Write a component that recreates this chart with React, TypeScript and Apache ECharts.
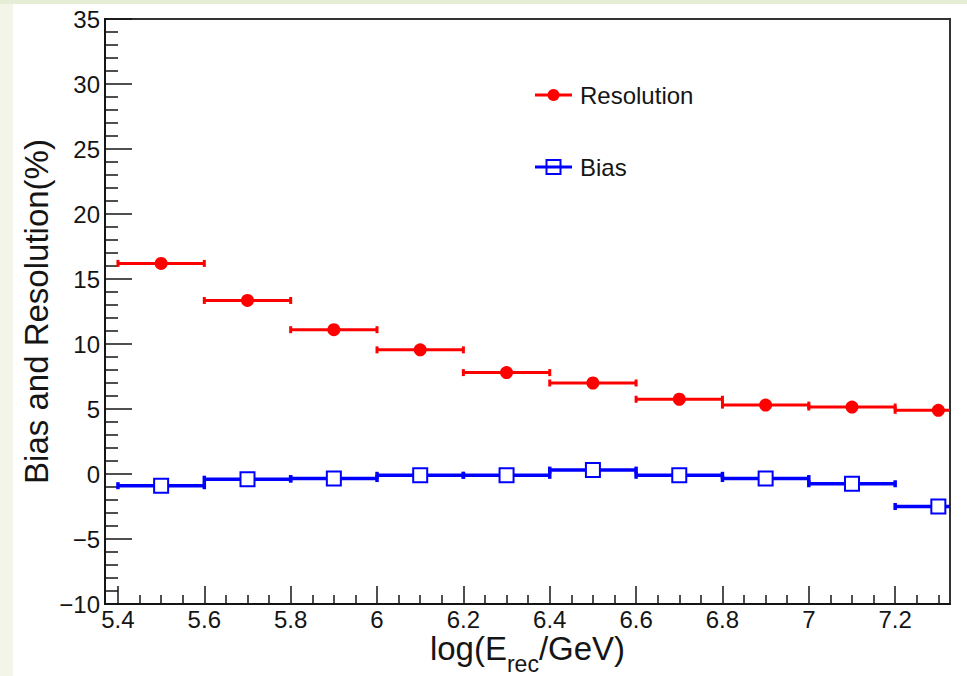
import React, { useEffect, useRef } from "react";
import * as echarts from "echarts";

// ---- data ----
const binCenters = [5.5, 5.7, 5.9, 6.1, 6.3, 6.5, 6.7, 6.9, 7.1, 7.3];
const binWidth = 0.2;
const resolution = [16.2, 13.35, 11.1, 9.55, 7.8, 7.0, 5.75, 5.3, 5.15, 4.9];
const bias = [-0.9, -0.4, -0.35, -0.1, -0.1, 0.3, -0.1, -0.35, -0.75, -2.5];
const xMajorTicks = [5.4, 5.6, 5.8, 6, 6.2, 6.4, 6.6, 6.8, 7, 7.2];
const xMinorTicks = [
  5.45, 5.5, 5.55, 5.65, 5.7, 5.75, 5.85, 5.9, 5.95, 6.05, 6.1, 6.15, 6.25,
  6.3, 6.35, 6.45, 6.5, 6.55, 6.65, 6.7, 6.75, 6.85, 6.9, 6.95, 7.05, 7.1,
  7.15, 7.25, 7.3,
];
const xMin = 5.37;
const xMax = 7.327;
const yMin = -10;
const yMax = 35;
const yStep = 5;

const FONT = "'Liberation Sans', Arial, Helvetica, sans-serif";
const RED = "#ff0000";
const BLUE = "#0000ff";
const TXT = "#151515";

function errorBarSeries(name: string, values: number[], color: string, lw: number) {
  return {
    name: name + "-err",
    type: "custom",
    xAxisIndex: 0,
    yAxisIndex: 0,
    clip: true,
    silent: true,
    z: 2,
    data: binCenters.map((x, i) => [x, values[i]]),
    renderItem: (params: any, api: any) => {
      const x = api.value(0);
      const y = api.value(1);
      const p1 = api.coord([x - binWidth / 2, y]);
      const p2 = api.coord([x + binWidth / 2, y]);
      const cap = 3.5;
      const st = { stroke: color, lineWidth: lw };
      return {
        type: "group",
        children: [
          { type: "line", shape: { x1: p1[0], y1: p1[1], x2: p2[0], y2: p2[1] }, style: st },
          { type: "line", shape: { x1: p1[0], y1: p1[1] - cap, x2: p1[0], y2: p1[1] + cap }, style: st },
          { type: "line", shape: { x1: p2[0], y1: p2[1] - cap, x2: p2[0], y2: p2[1] + cap }, style: st },
        ],
      };
    },
  };
}

export default function App() {
  const ref = useRef<HTMLDivElement>(null);
  useEffect(() => {
    if (!ref.current) return;
    const chart = echarts.init(ref.current, undefined, { renderer: "svg" });
    const baseX = {
      type: "value",
      min: xMin,
      max: xMax,
      position: "bottom",
      splitLine: { show: false },
    };
    chart.setOption({
      animation: false,
      backgroundColor: "transparent",
      grid: {
        left: 105,
        top: 19,
        right: 17,
        bottom: 72,
        containLabel: false,
        outerBoundsMode: "none",
        show: true,
        borderColor: "#333",
        borderWidth: 2,
        backgroundColor: "transparent",
      },
      xAxis: [
        {
          ...baseX,
          axisLine: { show: true, onZero: false, lineStyle: { color: TXT, width: 2 } },
          axisTick: { show: true, inside: true, length: 18, customValues: xMajorTicks, lineStyle: { color: TXT, width: 1.5 } },
          axisLabel: {
            show: true,
            customValues: xMajorTicks,
            margin: 5,
            fontSize: 24,
            lineHeight: 20,
            fontFamily: FONT,
            color: TXT,
          },
          name: "{a|log(E}{b|rec}{a|/GeV)}",
          nameLocation: "middle",
          nameGap: 28,
          nameMoveOverlap: false,
          nameTextStyle: {
            rich: {
              a: { fontSize: 33, lineHeight: 28, verticalAlign: "top", fontFamily: FONT, color: TXT },
              b: { fontSize: 23, lineHeight: 43, verticalAlign: "bottom", fontFamily: FONT, color: TXT },
            },
          },
        },
        {
          ...baseX,
          axisLine: { show: false, onZero: false },
          axisTick: { show: true, inside: true, length: 9, customValues: xMinorTicks, lineStyle: { color: TXT, width: 1.5 } },
          axisLabel: { show: false, customValues: xMinorTicks },
        },
      ],
      yAxis: {
        type: "value",
        min: yMin,
        max: yMax,
        interval: yStep,
        splitLine: { show: false },
        axisLine: { show: true, onZero: false, lineStyle: { color: TXT, width: 2 } },
        axisTick: { show: true, inside: true, length: 27, lineStyle: { color: TXT, width: 1.5 } },
        minorTick: { show: true, splitNumber: 5, length: 13, lineStyle: { color: TXT, width: 1.5 } },
        axisLabel: {
          margin: 5,
          fontSize: 24,
          fontFamily: FONT,
          color: TXT,
          formatter: (v: number) => String(v).replace("-", "\u2212"),
        },
        name: "Bias and Resolution(%)",
        nameLocation: "middle",
        nameGap: 52,
        nameMoveOverlap: false,
        nameTextStyle: { fontSize: 33, fontFamily: FONT, color: TXT },
      },
      series: [
        errorBarSeries("Resolution", resolution, RED, 3),
        errorBarSeries("Bias", bias, BLUE, 3.5),
        {
          name: "Resolution",
          type: "scatter",
          xAxisIndex: 0,
          symbol: "circle",
          symbolSize: 13,
          z: 3,
          itemStyle: { color: RED, opacity: 1 },
          data: binCenters.map((x, i) => [x, resolution[i]]),
        },
        {
          name: "Bias",
          type: "scatter",
          xAxisIndex: 0,
          symbol: "rect",
          symbolSize: 14,
          z: 3,
          itemStyle: { color: "#ffffff", borderColor: BLUE, borderWidth: 2, opacity: 1 },
          data: binCenters.map((x, i) => [x, bias[i]]),
        },
      ],
      graphic: [
        { type: "line", shape: { x1: 535, y1: 95, x2: 572, y2: 95 }, style: { stroke: RED, lineWidth: 3 } },
        { type: "circle", shape: { cx: 553.5, cy: 95, r: 6 }, style: { fill: RED } },
        {
          type: "text",
          x: 580,
          y: 95,
          style: { text: "Resolution", fontSize: 24, fontFamily: FONT, fill: TXT, verticalAlign: "middle", align: "left" },
        },
        { type: "line", shape: { x1: 535, y1: 167, x2: 572, y2: 167 }, style: { stroke: BLUE, lineWidth: 3 } },
        {
          type: "rect",
          shape: { x: 546.5, y: 160, width: 14, height: 14 },
          style: { fill: "none", stroke: BLUE, lineWidth: 2 },
        },
        {
          type: "text",
          x: 580,
          y: 167,
          style: { text: "Bias", fontSize: 24, fontFamily: FONT, fill: TXT, verticalAlign: "middle", align: "left" },
        },
      ],
    });
    return () => chart.dispose();
  }, []);

  return (
    <div style={{ position: "fixed", left: 0, top: 0, width: 967, height: 676, background: "#f2f5e8", overflow: "hidden" }}>
      <div style={{ position: "absolute", left: 0, top: 0, width: 967, height: 4, background: "#e6edd6" }} />
      <div style={{ position: "absolute", left: 13, top: 4, width: 954, height: 672, background: "#ffffff" }} />
      <div ref={ref} style={{ position: "absolute", left: 0, top: 0, width: 967, height: 676 }} />
    </div>
  );
}
